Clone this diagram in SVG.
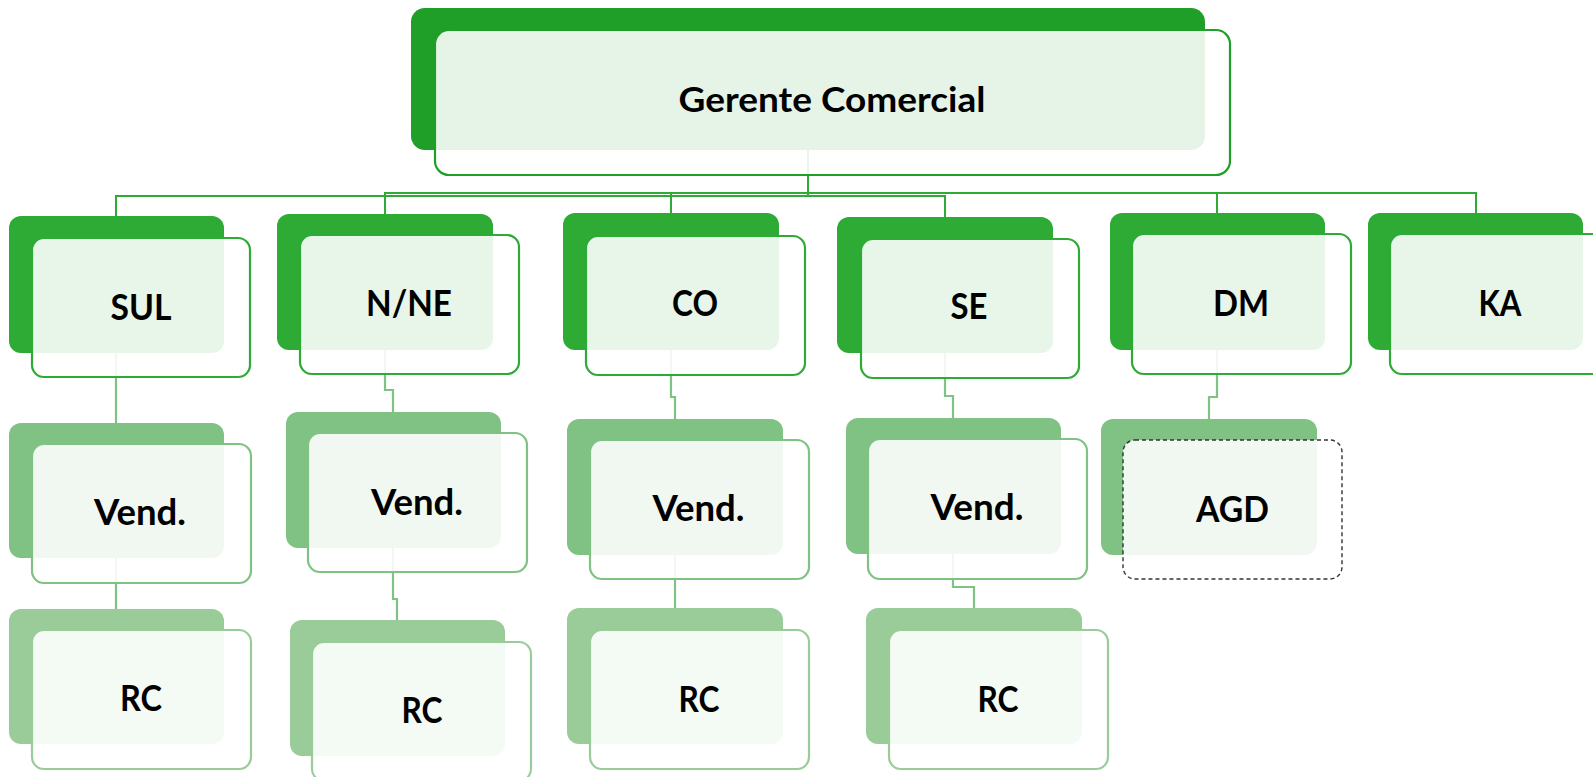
<svg xmlns="http://www.w3.org/2000/svg" width="1593" height="777" viewBox="0 0 1593 777">
  <style>
    .bg { fill: #ffffff; }
    .b0 { fill: #1f9e28; }
    .b1 { fill: #2dab35; }
    .b2 { fill: #80c283; }
    .b3 { fill: #99cc99; }
    .f { fill: #ffffff; fill-opacity: 0.89; stroke-width: 2.2; }
    .s0 { stroke: #1f9e28; }
    .s1 { stroke: #2dab35; }
    .s2 { stroke: #80c283; }
    .s3 { stroke: #99cc99; }
    .dash { stroke: #333333; stroke-width: 1.4; stroke-dasharray: 4 3; }
    .c1 { fill: none; stroke: #2dab35; stroke-width: 2; }
    .c2 { fill: none; stroke: #80c283; stroke-width: 2.2; }
    .t { font-family: "Lato", "Liberation Sans", sans-serif; font-weight: 700; font-size: 37px; fill: #000000; text-anchor: middle; }
    .t0 { font-size: 34.5px; }
  </style>

  <rect class="bg" x="0" y="0" width="1593" height="777"/>

  <!-- connectors: drawn first so the translucent front panels sit over them -->
  <g id="connectors">
    <!-- manager to regions -->
    <polyline class="c1" points="808,150 808,196 116,196 116,216"/>
    <polyline class="c1" points="808,150 808,193 385,193 385,214"/>
    <polyline class="c1" points="808,150 808,193 671,193 671,213"/>
    <polyline class="c1" points="808,150 808,196 945,196 945,217"/>
    <polyline class="c1" points="808,150 808,193 1217,193 1217,213"/>
    <polyline class="c1" points="808,150 808,193 1476,193 1476,213"/>
    <!-- regions to sellers -->
    <polyline class="c2" points="116,353 116,423"/>
    <polyline class="c2" points="385,350 385,390 393,390 393,412"/>
    <polyline class="c2" points="671,350 671,397 675,397 675,419"/>
    <polyline class="c2" points="945,353 945,396 953,396 953,418"/>
    <polyline class="c2" points="1217,350 1217,397 1209,397 1209,419"/>
    <!-- sellers to RC -->
    <polyline class="c2" points="116,558 116,609"/>
    <polyline class="c2" points="393,548 393,599 397,599 397,620"/>
    <polyline class="c2" points="675,555 675,608"/>
    <polyline class="c2" points="953,554 953,587 974,587 974,608"/>
  </g>

  <g id="gerente">
    <rect class="b0" x="411" y="8" width="794" height="142" rx="14"/>
    <rect class="f s0" x="435" y="30" width="795" height="145" rx="14"/>
    <text class="t t0" x="832" y="112" textLength="307" lengthAdjust="spacingAndGlyphs">Gerente Comercial</text>
  </g>

  <g id="sul">
    <rect class="b1" x="9" y="216" width="215" height="137" rx="12"/>
    <rect class="f s1" x="32" y="238" width="218" height="139" rx="12"/>
    <text class="t" x="141" y="320" textLength="61" lengthAdjust="spacingAndGlyphs">SUL</text>
  </g>

  <g id="n-ne">
    <rect class="b1" x="277" y="214" width="216" height="136" rx="12"/>
    <rect class="f s1" x="300" y="235" width="219" height="139" rx="12"/>
    <text class="t" x="409" y="316" textLength="86" lengthAdjust="spacingAndGlyphs">N/NE</text>
  </g>

  <g id="co">
    <rect class="b1" x="563" y="213" width="216" height="137" rx="12"/>
    <rect class="f s1" x="586" y="236" width="219" height="139" rx="12"/>
    <text class="t" x="695" y="316" textLength="46" lengthAdjust="spacingAndGlyphs">CO</text>
  </g>

  <g id="se">
    <rect class="b1" x="837" y="217" width="216" height="136" rx="12"/>
    <rect class="f s1" x="861" y="239" width="218" height="139" rx="12"/>
    <text class="t" x="969" y="319" textLength="37" lengthAdjust="spacingAndGlyphs">SE</text>
  </g>

  <g id="dm">
    <rect class="b1" x="1110" y="213" width="215" height="137" rx="12"/>
    <rect class="f s1" x="1132" y="234" width="219" height="140" rx="12"/>
    <text class="t" x="1241" y="316" textLength="56" lengthAdjust="spacingAndGlyphs">DM</text>
  </g>

  <g id="ka">
    <rect class="b1" x="1368" y="213" width="215" height="137" rx="12"/>
    <rect class="f s1" x="1390" y="234" width="219" height="140" rx="12"/>
    <text class="t" x="1500" y="316" textLength="43" lengthAdjust="spacingAndGlyphs">KA</text>
  </g>

  <g id="sul-vend">
    <rect class="b2" x="9" y="423" width="215" height="135" rx="12"/>
    <rect class="f s2" x="32" y="444" width="219" height="139" rx="12"/>
    <text class="t" x="140" y="525" textLength="92" lengthAdjust="spacingAndGlyphs">Vend.</text>
  </g>

  <g id="n-ne-vend">
    <rect class="b2" x="286" y="412" width="215" height="136" rx="12"/>
    <rect class="f s2" x="308" y="433" width="219" height="139" rx="12"/>
    <text class="t" x="417" y="515" textLength="92" lengthAdjust="spacingAndGlyphs">Vend.</text>
  </g>

  <g id="co-vend">
    <rect class="b2" x="567" y="419" width="216" height="136" rx="12"/>
    <rect class="f s2" x="590" y="440" width="219" height="139" rx="12"/>
    <text class="t" x="698.5" y="521" textLength="92" lengthAdjust="spacingAndGlyphs">Vend.</text>
  </g>

  <g id="se-vend">
    <rect class="b2" x="846" y="418" width="215" height="136" rx="12"/>
    <rect class="f s2" x="868" y="439" width="219" height="140" rx="12"/>
    <text class="t" x="977" y="520" textLength="93" lengthAdjust="spacingAndGlyphs">Vend.</text>
  </g>

  <g id="agd">
    <rect class="b2" x="1101" y="419" width="216" height="136" rx="12"/>
    <rect class="f dash" x="1123" y="440" width="219" height="139" rx="12"/>
    <text class="t" x="1232.5" y="521.5" textLength="73" lengthAdjust="spacingAndGlyphs">AGD</text>
  </g>

  <g id="sul-rc">
    <rect class="b3" x="9" y="609" width="215" height="135" rx="12"/>
    <rect class="f s3" x="32" y="630" width="219" height="139" rx="12"/>
    <text class="t" x="141" y="711" textLength="42" lengthAdjust="spacingAndGlyphs">RC</text>
  </g>

  <g id="n-ne-rc">
    <rect class="b3" x="290" y="620" width="215" height="136" rx="12"/>
    <rect class="f s3" x="312" y="642" width="219" height="139" rx="12"/>
    <text class="t" x="422" y="723" textLength="41" lengthAdjust="spacingAndGlyphs">RC</text>
  </g>

  <g id="co-rc">
    <rect class="b3" x="567" y="608" width="216" height="136" rx="12"/>
    <rect class="f s3" x="590" y="630" width="219" height="139" rx="12"/>
    <text class="t" x="699" y="712" textLength="41" lengthAdjust="spacingAndGlyphs">RC</text>
  </g>

  <g id="se-rc">
    <rect class="b3" x="866" y="608" width="216" height="136" rx="12"/>
    <rect class="f s3" x="889" y="630" width="219" height="139" rx="12"/>
    <text class="t" x="998" y="712" textLength="41" lengthAdjust="spacingAndGlyphs">RC</text>
  </g>
</svg>
